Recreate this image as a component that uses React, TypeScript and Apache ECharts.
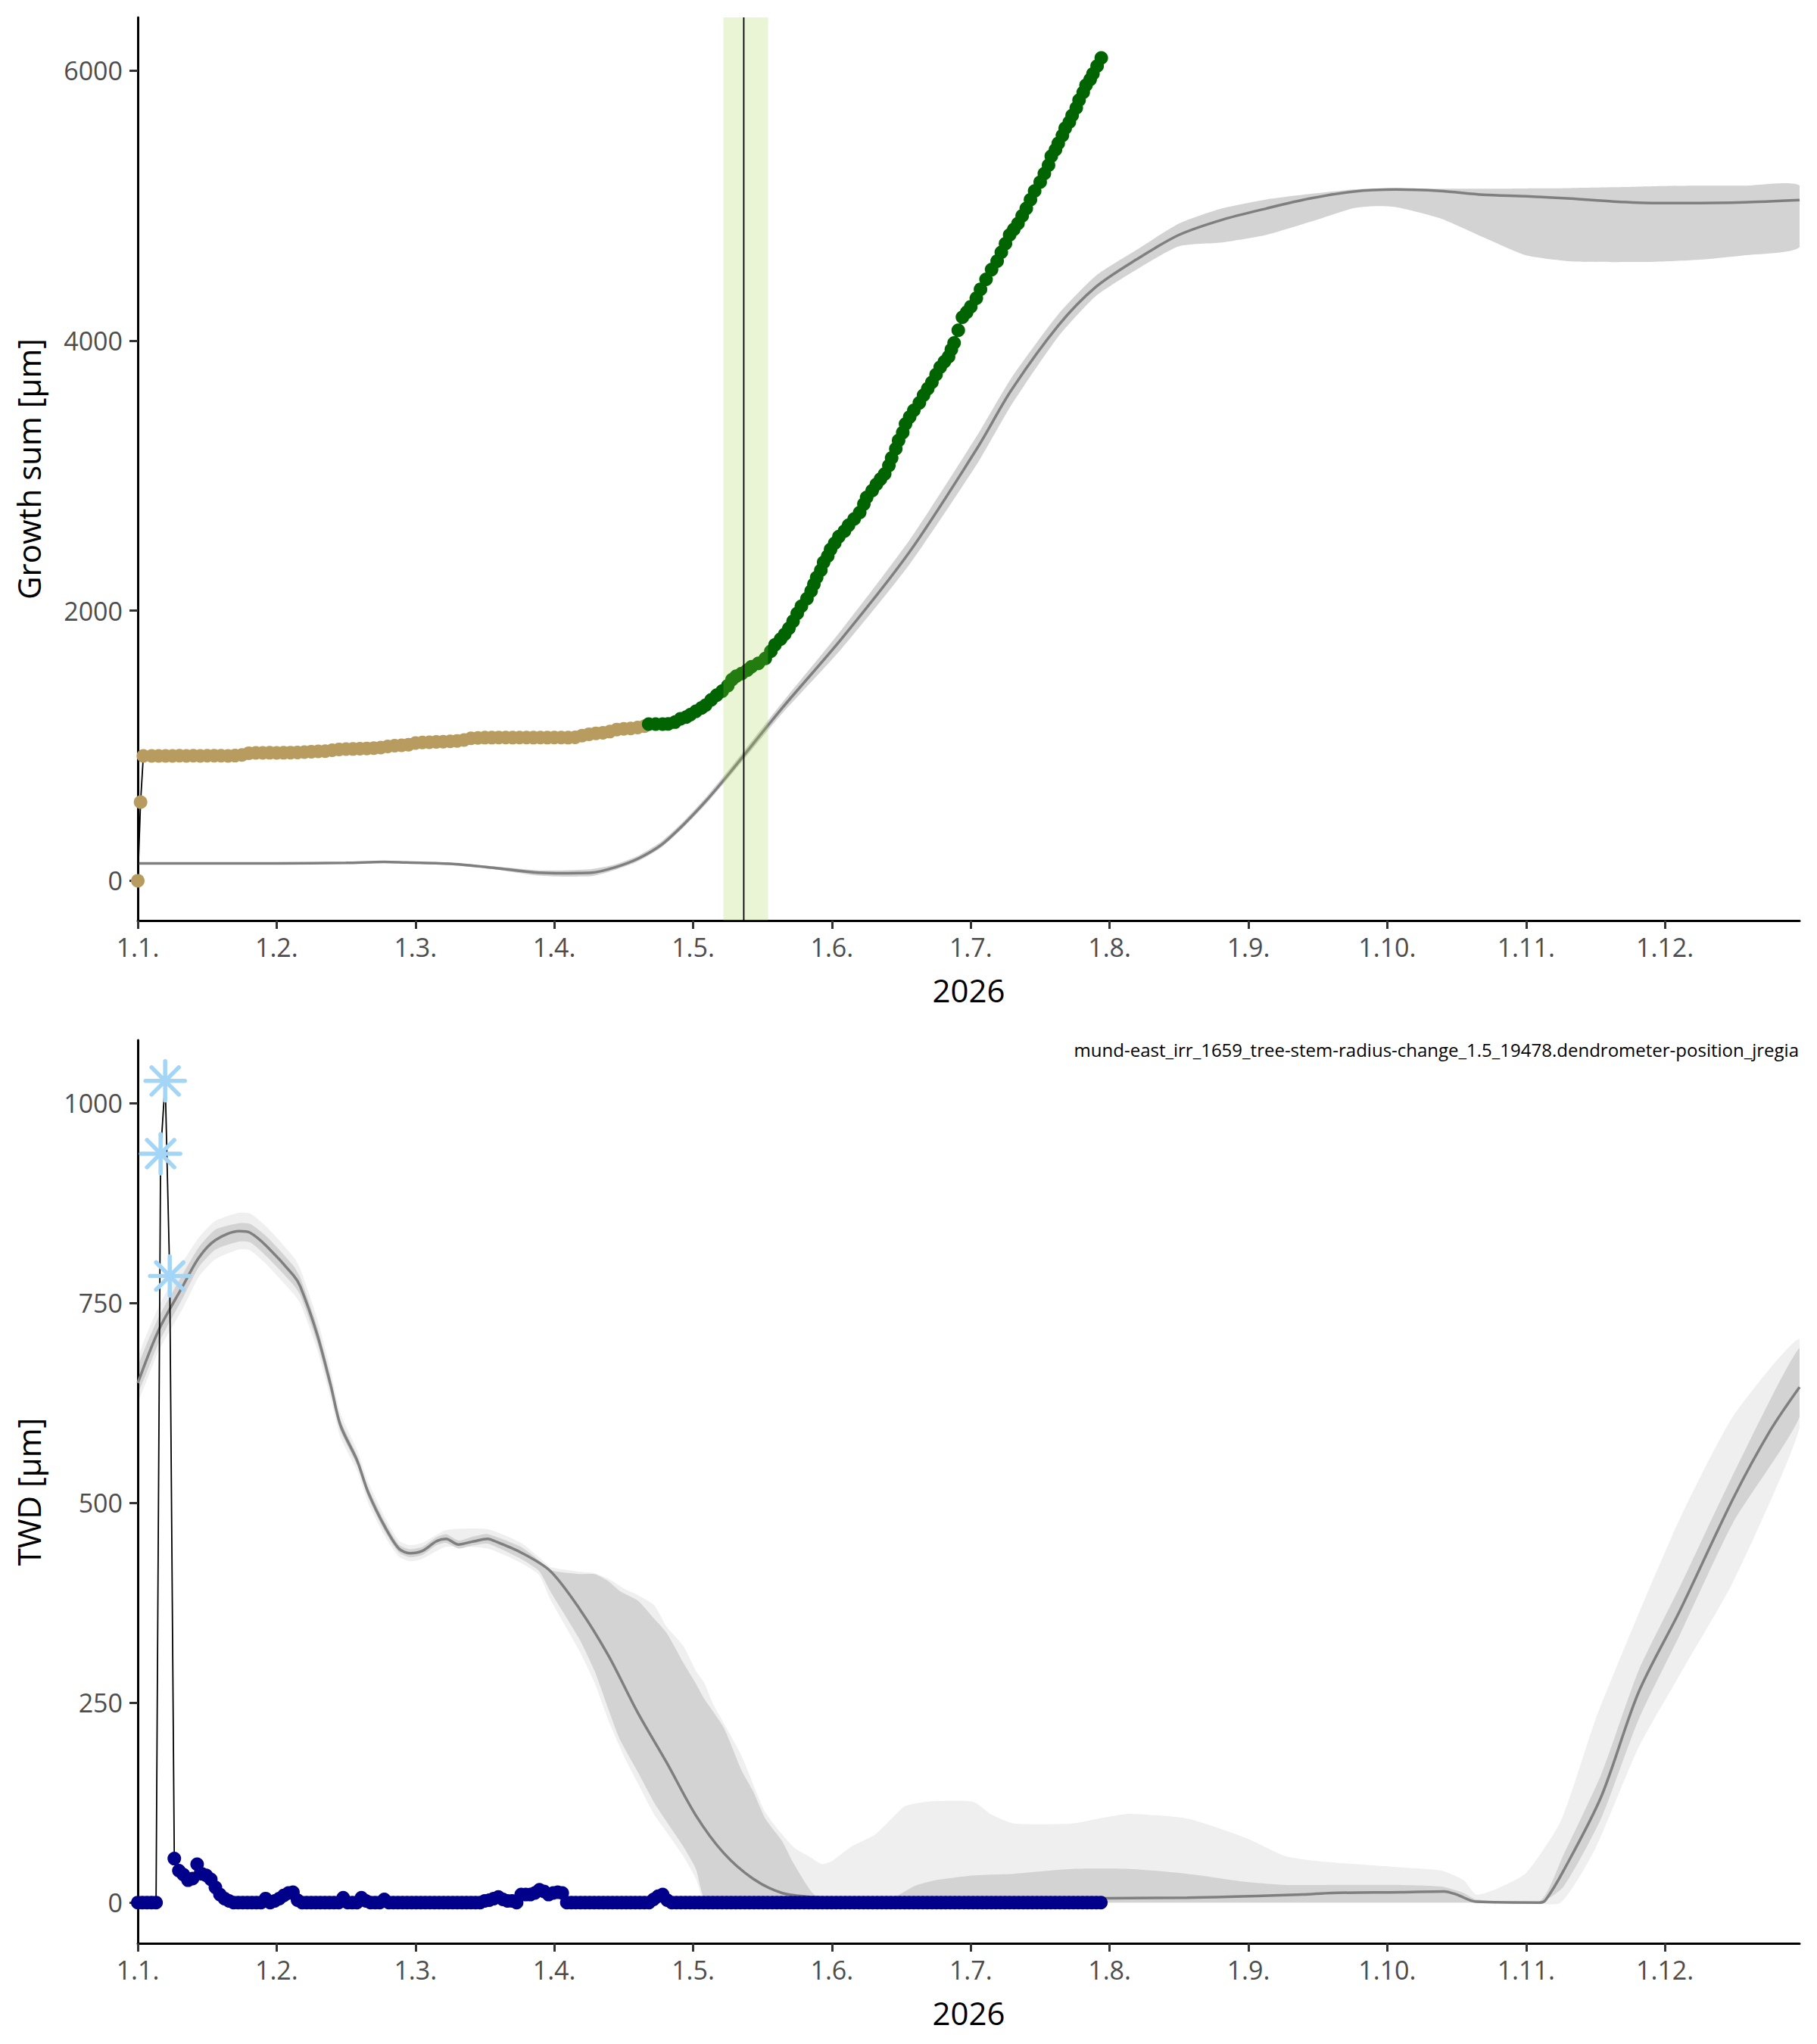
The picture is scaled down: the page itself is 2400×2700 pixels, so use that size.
import React, { useEffect, useRef } from "react";
import * as echarts from "echarts";

// ---------- axes ----------
const MONTH_LABELS = ["1.1.", "1.2.", "1.3.", "1.4.", "1.5.", "1.6.", "1.7.", "1.8.", "1.9.", "1.10.", "1.11.", "1.12."];
const X_TICKS = [0, 1, 2, 3, 4, 5, 6, 7, 8, 9, 10, 11];
const X_MAX = 11.97; // months
const YEAR_LABEL = "2026";
const TOP_Y_TICKS = [0, 2000, 4000, 6000];
const TOP_Y_MIN = -295;
const TOP_Y_MAX = 6395;
const BOT_Y_TICKS = [0, 250, 500, 750, 1000];
const BOT_Y_MIN = -51;
const BOT_Y_MAX = 1079;
const TOP_Y_NAME = "Growth sum [µm]";
const BOT_Y_NAME = "TWD [µm]";
const ANNOTATION = "mund-east_irr_1659_tree-stem-radius-change_1.5_19478.dendrometer-position_jregia";

// ---------- top panel: growth ----------
// [month, µm]
const TAN_POINTS = [
  [0.0, 0], [0.02, 583], [0.04, 925], [0.1, 925], [0.15, 925], [0.2, 925], [0.25, 925], [0.3, 926],
  [0.35, 925], [0.4, 926], [0.45, 925], [0.5, 926], [0.55, 926], [0.6, 926], [0.65, 925], [0.7, 927],
  [0.75, 932], [0.8, 945], [0.85, 947], [0.9, 947], [0.95, 948], [1.0, 947], [1.05, 948], [1.1, 949],
  [1.15, 950], [1.2, 953], [1.25, 956], [1.3, 958], [1.35, 960], [1.4, 967], [1.45, 973], [1.5, 975],
  [1.55, 976], [1.6, 978], [1.65, 980], [1.7, 982], [1.75, 986], [1.8, 995], [1.85, 1000], [1.9, 1003],
  [1.95, 1008], [2.0, 1020], [2.05, 1024], [2.1, 1026], [2.15, 1028], [2.2, 1030], [2.25, 1033], [2.3, 1036],
  [2.35, 1042], [2.4, 1055], [2.45, 1058], [2.5, 1060], [2.55, 1060], [2.6, 1061], [2.65, 1061], [2.7, 1060],
  [2.75, 1061], [2.8, 1061], [2.85, 1060], [2.9, 1061], [2.95, 1060], [3.0, 1061], [3.05, 1061], [3.1, 1060],
  [3.15, 1062], [3.2, 1075], [3.25, 1085], [3.3, 1092], [3.35, 1096], [3.4, 1105], [3.45, 1120], [3.5, 1125],
  [3.55, 1128], [3.6, 1135], [3.65, 1145],
];
const GREEN_POINTS = [
  [3.68, 1160], [3.73, 1160], [3.78, 1160], [3.82, 1162], [3.87, 1175], [3.91, 1200], [3.95, 1212], [3.98, 1230],
  [4.02, 1255], [4.06, 1280], [4.09, 1300], [4.13, 1340], [4.17, 1375], [4.21, 1405], [4.25, 1445], [4.28, 1490],
  [4.31, 1515], [4.35, 1535], [4.39, 1560], [4.42, 1585], [4.47, 1610], [4.52, 1647], [4.56, 1700], [4.59, 1748],
  [4.63, 1790], [4.66, 1826], [4.69, 1870], [4.72, 1922], [4.75, 1980], [4.78, 2034], [4.82, 2090], [4.85, 2146],
  [4.87, 2196], [4.89, 2246], [4.92, 2300], [4.94, 2359], [4.97, 2405], [4.99, 2454], [5.02, 2500], [5.05, 2549],
  [5.09, 2590], [5.12, 2633], [5.16, 2680], [5.2, 2728], [5.23, 2790], [5.25, 2840], [5.29, 2890], [5.32, 2936],
  [5.35, 2975], [5.38, 3014], [5.41, 3075], [5.43, 3132], [5.46, 3200], [5.48, 3261], [5.51, 3320], [5.53, 3384],
  [5.56, 3435], [5.59, 3485], [5.63, 3540], [5.66, 3597], [5.69, 3645], [5.72, 3692], [5.75, 3750], [5.78, 3804],
  [5.81, 3845], [5.84, 3882], [5.86, 3935], [5.88, 3983], [5.91, 4078], [5.94, 4174], [5.97, 4210], [6.0, 4252],
  [6.04, 4315], [6.07, 4381], [6.11, 4455], [6.15, 4527], [6.19, 4590], [6.22, 4655], [6.25, 4720], [6.28, 4784],
  [6.31, 4825], [6.34, 4868], [6.37, 4925], [6.4, 4980], [6.43, 5045], [6.46, 5109], [6.5, 5175], [6.53, 5238],
  [6.56, 5300], [6.58, 5367], [6.61, 5415], [6.63, 5462], [6.66, 5520], [6.68, 5574], [6.71, 5620], [6.73, 5669],
  [6.76, 5725], [6.78, 5782], [6.81, 5840], [6.83, 5893], [6.86, 5935], [6.88, 5977], [6.91, 6035], [6.94, 6095],
];
const TOP_REF_LINE = [
  [0, 129], [0.5, 129], [1.0, 129], [1.5, 132], [1.77, 140], [1.93, 135], [2.27, 124], [2.56, 96], [2.85, 62],
  [3.01, 56], [3.27, 60], [3.43, 97], [3.6, 162], [3.77, 265], [3.93, 415], [4.1, 600], [4.27, 807], [4.64, 1277],
  [5.07, 1793], [5.56, 2437], [6.05, 3210], [6.29, 3630], [6.63, 4112], [6.9, 4398], [7.19, 4600], [7.5, 4784],
  [7.81, 4896], [8.13, 4980], [8.44, 5053], [8.75, 5104], [9.06, 5120], [9.38, 5109], [9.69, 5081], [10.0, 5070],
  [10.32, 5053], [10.63, 5031], [10.94, 5020], [11.25, 5020], [11.57, 5025], [11.97, 5042],
];
// [month, low, high]
const TOP_REF_BAND = [
  [0, 124, 134], [0.5, 124, 134], [1.0, 124, 134], [1.5, 127, 137], [1.77, 134, 146], [1.93, 128, 142],
  [2.27, 115, 133], [2.56, 85, 107], [2.85, 42, 80], [3.01, 32, 76], [3.27, 34, 86], [3.43, 78, 118],
  [3.6, 143, 183], [3.77, 245, 290], [3.93, 393, 440], [4.1, 575, 628], [4.27, 780, 838], [4.64, 1237, 1317],
  [5.07, 1720, 1860], [5.56, 2345, 2525], [6.05, 3095, 3305], [6.29, 3520, 3720], [6.63, 4030, 4195],
  [6.9, 4330, 4480], [7.19, 4525, 4670], [7.5, 4700, 4868], [7.81, 4728, 4980], [8.13, 4784, 5047],
  [8.44, 4879, 5087], [8.75, 4980, 5120], [8.91, 4997, 5128], [9.06, 4990, 5131], [9.38, 4907, 5126],
  [9.69, 4767, 5126], [10.0, 4633, 5128], [10.32, 4588, 5131], [10.63, 4583, 5137], [10.94, 4585, 5145],
  [11.25, 4600, 5148], [11.57, 4633, 5148], [11.97, 4695, 5148],
];
const ONSET_WINDOW = [4.218, 4.54];
const ONSET_LINE = 4.365;

// ---------- bottom panel: TWD ----------
const DAYS_PER_MONTH = 365 / 12;
// daily TWD values from day 0 (1 Jan)
const TWD_DAILY = [
  0, 0, 0, 0, 0, 937, 1028, 784, 55, 40, 35, 28, 30, 48, 36, 34, 29, 19, 10, 5, 2,
  0, 0, 0, 0, 0, 0, 0, 5, 0, 2, 5, 9, 12, 13, 3,
  0, 0, 0, 0, 0, 0, 0, 0, 0, 6, 0, 0, 0, 6, 2, 0, 0, 0, 4,
  0, 0, 0, 0, 0, 0, 0, 0, 0, 0, 0, 0, 0, 0, 0, 0, 0, 0, 0, 0, 0,
  2, 3, 5, 7, 4, 2, 2, 0, 10, 10, 10, 12, 16, 14, 10, 12, 13, 12,
  0, 0, 0, 0, 0, 0, 0, 0, 0, 0, 0, 0, 0, 0, 0, 0, 0, 0, 0,
  4, 8, 10, 3,
  0, 0, 0, 0, 0, 0, 0, 0, 0, 0, 0, 0, 0, 0, 0, 0, 0, 0, 0, 0,
  0, 0, 0, 0, 0, 0, 0, 0, 0, 0, 0, 0, 0, 0, 0, 0, 0, 0, 0, 0,
  0, 0, 0, 0, 0, 0, 0, 0, 0, 0, 0, 0, 0, 0, 0, 0, 0, 0, 0, 0,
  0, 0, 0, 0, 0, 0, 0, 0, 0, 0, 0, 0, 0, 0, 0, 0, 0, 0, 0, 0,
  0, 0, 0, 0, 0, 0, 0, 0, 0, 0, 0, 0, 0, 0, 0,
];
const FROST_DAYS = [5, 6, 7];
const BOT_REF_LINE = [
  [0, 650], [0.15, 716], [0.32, 770], [0.44, 807], [0.56, 829], [0.73, 840], [0.81, 838], [0.93, 821],
  [1.12, 785], [1.17, 771], [1.29, 712], [1.39, 647], [1.46, 597], [1.58, 553], [1.66, 513], [1.78, 470],
  [1.88, 443], [1.96, 437], [2.05, 440], [2.15, 452], [2.22, 455], [2.31, 448], [2.42, 452], [2.52, 455],
  [2.56, 453], [2.76, 438], [2.97, 415], [3.18, 368], [3.39, 309], [3.6, 238], [3.81, 175], [4.02, 109],
  [4.22, 62], [4.43, 30], [4.64, 12], [4.85, 7], [5.2, 5], [6.0, 5], [7.56, 6], [8.39, 10], [8.6, 12],
  [9.1, 13], [9.41, 14], [9.5, 10], [9.64, 1], [10.1, 0], [10.14, 3], [10.27, 40], [10.54, 132],
  [10.81, 263], [11.11, 366], [11.49, 505], [11.76, 591], [11.97, 645],
];
const BOT_DARK_BAND = [
  [0, 638, 670], [0.15, 700, 732], [0.32, 755, 785], [0.44, 795, 820], [0.56, 817, 842], [0.73, 827, 850],
  [0.81, 826, 849], [0.93, 808, 833], [1.12, 773, 797], [1.17, 760, 782], [1.29, 702, 722], [1.39, 638, 656],
  [1.46, 590, 604], [1.58, 547, 559], [1.66, 507, 519], [1.78, 464, 476], [1.88, 438, 448], [1.96, 432, 442],
  [2.05, 435, 445], [2.15, 447, 457], [2.22, 450, 461], [2.31, 443, 453], [2.42, 447, 458], [2.52, 449, 461],
  [2.76, 430, 445], [2.89, 415, 428], [2.97, 390, 416], [3.18, 330, 411], [3.29, 290, 411], [3.39, 242, 402],
  [3.47, 205, 390], [3.6, 164, 378], [3.72, 125, 355], [3.81, 101, 337], [3.93, 70, 300], [4.02, 42, 274],
  [4.08, 6, 255], [4.22, 0, 219], [4.35, 0, 165], [4.43, 0, 140], [4.52, 0, 105], [4.64, 0, 77], [4.72, 0, 50],
  [4.85, 0, 14], [4.93, 0, 4], [5.43, 0, 6], [5.6, 0, 21], [5.75, 0, 28], [6.02, 0, 34], [6.31, 0, 36],
  [6.73, 0, 42], [7.14, 0, 42], [7.56, 0, 36], [7.98, 0, 26], [8.27, 0, 22], [8.55, 0, 22], [9.1, 0, 22],
  [9.39, 0, 20], [9.55, 0, 12], [9.64, 0, 4], [10.1, 0, 2], [10.27, 20, 60], [10.54, 105, 160],
  [10.81, 229, 290], [11.11, 336, 396], [11.49, 475, 535], [11.97, 608, 694],
];
const BOT_LIGHT_BAND = [
  [0, 628, 680], [0.15, 690, 745], [0.32, 742, 800], [0.44, 783, 832], [0.56, 805, 853], [0.73, 817, 863],
  [0.81, 816, 862], [0.93, 798, 845], [1.12, 762, 808], [1.17, 750, 793], [1.29, 693, 732], [1.39, 630, 665],
  [1.46, 582, 612], [1.58, 540, 566], [1.66, 500, 526], [1.78, 458, 482], [1.88, 433, 453], [1.96, 427, 447],
  [2.05, 430, 450], [2.22, 445, 466], [2.52, 443, 467], [2.76, 425, 450], [2.89, 410, 432], [2.97, 380, 420],
  [3.18, 315, 414], [3.29, 275, 412], [3.39, 228, 405], [3.51, 180, 392], [3.6, 150, 385], [3.72, 110, 372],
  [3.81, 88, 345], [3.93, 58, 321], [4.02, 30, 290], [4.08, 0, 275], [4.14, 0, 250], [4.35, 0, 183],
  [4.52, 0, 113], [4.72, 0, 70], [4.85, 0, 56], [4.93, 0, 48], [5.0, 0, 52], [5.14, 0, 70], [5.31, 0, 85],
  [5.43, 0, 105], [5.52, 0, 120], [5.6, 0, 124], [5.75, 0, 127], [6.02, 0, 126], [6.15, 0, 110],
  [6.31, 0, 99], [6.73, 0, 99], [6.95, 0, 106], [7.14, 0, 111], [7.56, 0, 105], [7.98, 0, 81], [8.27, 0, 58],
  [8.55, 0, 51], [9.1, 0, 44], [9.39, 0, 40], [9.55, 0, 28], [9.64, 0, 10], [9.8, 0, 18], [10.0, 0, 37],
  [10.25, 0, 102], [10.5, 68, 229], [10.81, 194, 361], [11.11, 286, 481], [11.49, 401, 608], [11.97, 594, 705],
];

// ---------- styles ----------
const FONT = '"Open Sans", "Noto Sans", sans-serif';
const TAN = "#B89C5F";
const GREEN = "#006400";
const BLUE = "#00008B";
const FROST = "#A3D5F7";
const REF_LINE = "#7F7F7F";
const BAND_DARK = "#D3D3D3";
const BAND_LIGHT = "#EFEFEF";

function xAxis(gridIndex: number) {
  return {
    type: "value",
    gridIndex,
    min: 0,
    max: X_MAX,
    z: 1,
    axisLine: { show: true, onZero: false, lineStyle: { color: "#000", width: 3 } },
    axisTick: { show: true, length: 11, customValues: X_TICKS, lineStyle: { color: "#333", width: 3 } },
    axisLabel: {
      customValues: X_TICKS,
      formatter: (v: number) => MONTH_LABELS[Math.round(v)],
      fontSize: 34,
      color: "#4D4D4D",
      margin: 18,
      fontFamily: FONT,
    },
    splitLine: { show: false },
    name: YEAR_LABEL,
    nameLocation: "middle",
    nameGap: 70,
    nameTextStyle: { fontSize: 42, color: "#000", fontFamily: FONT },
  };
}

function yAxis(gridIndex: number, min: number, max: number, ticks: number[], name: string) {
  return {
    type: "value",
    gridIndex,
    min,
    max,
    z: 1,
    axisLine: { show: true, onZero: false, lineStyle: { color: "#000", width: 3 } },
    axisTick: { show: true, length: 11, customValues: ticks, lineStyle: { color: "#333", width: 3 } },
    axisLabel: {
      customValues: ticks,
      formatter: (v: number) => String(Math.round(v)),
      fontSize: 34,
      color: "#4D4D4D",
      margin: 20,
      fontFamily: FONT,
    },
    splitLine: { show: false },
    name,
    nameLocation: "middle",
    nameGap: 124,
    nameTextStyle: { fontSize: 42, color: "#000", fontFamily: FONT },
  };
}

function bandSeries(idx: number, band: number[][], color: string) {
  return {
    type: "custom",
    xAxisIndex: idx,
    yAxisIndex: idx,
    silent: true,
    clip: true,
    z: 1,
    data: [[0, 0]],
    renderItem: (_params: any, api: any) => {
      const upper = band.map((b) => api.coord([b[0], b[2]]));
      const lower = band
        .slice()
        .reverse()
        .map((b) => api.coord([b[0], b[1]]));
      return {
        type: "polygon",
        shape: { points: upper.concat(lower), smooth: 0.2 },
        style: { fill: color },
      };
    },
  };
}

function lineSeries(idx: number, data: number[][], color: string, width: number, smooth: number | boolean, z: number) {
  return {
    type: "line",
    xAxisIndex: idx,
    yAxisIndex: idx,
    data,
    smooth,
    showSymbol: false,
    symbol: "none",
    silent: true,
    z,
    lineStyle: { color, width },
  };
}

function scatterSeries(idx: number, data: number[][], color: string) {
  return {
    type: "scatter",
    xAxisIndex: idx,
    yAxisIndex: idx,
    data,
    symbolSize: 18,
    silent: true,
    z: 5,
    itemStyle: { color, opacity: 1, borderWidth: 0 },
  };
}

export default function App() {
  const ref = useRef<HTMLDivElement>(null);

  useEffect(() => {
    if (!ref.current) return;
    const chart = echarts.init(ref.current, undefined, { renderer: "svg" });

    const twdAll = TWD_DAILY.map((v, d) => [d / DAYS_PER_MONTH, v]);
    const twdDots = twdAll.filter((_, d) => FROST_DAYS.indexOf(d) < 0);
    const frostPts = FROST_DAYS.map((d) => [d / DAYS_PER_MONTH, TWD_DAILY[d]]);
    const growthAll = TAN_POINTS.concat(GREEN_POINTS);

    const option = {
      animation: false,
      backgroundColor: "#fff",
      textStyle: { fontFamily: FONT },
      grid: [
        { left: 182, top: 23, width: 2195, height: 1193 },
        { left: 182, top: 1374, width: 2195, height: 1193 },
      ],
      xAxis: [xAxis(0), xAxis(1)],
      yAxis: [
        yAxis(0, TOP_Y_MIN, TOP_Y_MAX, TOP_Y_TICKS, TOP_Y_NAME),
        yAxis(1, BOT_Y_MIN, BOT_Y_MAX, BOT_Y_TICKS, BOT_Y_NAME),
      ],
      graphic: [
        {
          type: "text",
          x: 2376,
          y: 1386,
          style: {
            text: ANNOTATION,
            align: "right",
            verticalAlign: "middle",
            fontSize: 24,
            fontFamily: FONT,
            fill: "#000",
          },
        },
      ],
      series: [
        // top panel
        bandSeries(0, TOP_REF_BAND, BAND_DARK),
        lineSeries(0, TOP_REF_LINE, REF_LINE, 3.5, 0.3, 2),
        lineSeries(0, growthAll, "#000", 1.8, false, 3),
        scatterSeries(0, TAN_POINTS, TAN),
        scatterSeries(0, GREEN_POINTS, GREEN),
        {
          type: "custom",
          xAxisIndex: 0,
          yAxisIndex: 0,
          silent: true,
          z: 10,
          data: [[ONSET_WINDOW[0], ONSET_WINDOW[1], ONSET_LINE]],
          renderItem: (_p: any, api: any) => {
            const a = api.coord([api.value(0), TOP_Y_MAX]);
            const b = api.coord([api.value(1), TOP_Y_MIN]);
            const l = api.coord([api.value(2), TOP_Y_MIN]);
            return {
              type: "group",
              children: [
                {
                  type: "rect",
                  shape: { x: a[0], y: a[1], width: b[0] - a[0], height: b[1] - a[1] },
                  style: { fill: "rgba(159,209,68,0.22)" },
                },
                {
                  type: "line",
                  shape: { x1: l[0], y1: a[1], x2: l[0], y2: b[1] },
                  style: { stroke: "#000", lineWidth: 1.8 },
                },
              ],
            };
          },
        },
        // bottom panel
        bandSeries(1, BOT_LIGHT_BAND, BAND_LIGHT),
        bandSeries(1, BOT_DARK_BAND, BAND_DARK),
        lineSeries(1, BOT_REF_LINE, REF_LINE, 3.5, 0.3, 2),
        lineSeries(1, twdAll, "#000", 1.8, false, 3),
        scatterSeries(1, twdDots, BLUE),
        {
          type: "custom",
          xAxisIndex: 1,
          yAxisIndex: 1,
          silent: true,
          z: 10,
          data: frostPts,
          renderItem: (_p: any, api: any) => {
            const c = api.coord([api.value(0), api.value(1)]);
            const r = 26;
            const d = 18;
            const arms = [
              [-r, 0, r, 0],
              [0, -r, 0, r],
              [-d, -d, d, d],
              [-d, d, d, -d],
            ];
            return {
              type: "group",
              children: arms.map((s) => ({
                type: "line",
                shape: { x1: c[0] + s[0], y1: c[1] + s[1], x2: c[0] + s[2], y2: c[1] + s[3] },
                style: { stroke: FROST, lineWidth: 5.5, lineCap: "round" },
              })),
            };
          },
        },
      ],
    };

    chart.setOption(option as any);
    return () => chart.dispose();
  }, []);

  return (
    <div
      ref={ref}
      style={{ position: "absolute", left: 0, top: 0, width: 2400, height: 2700, background: "#fff" }}
    />
  );
}
